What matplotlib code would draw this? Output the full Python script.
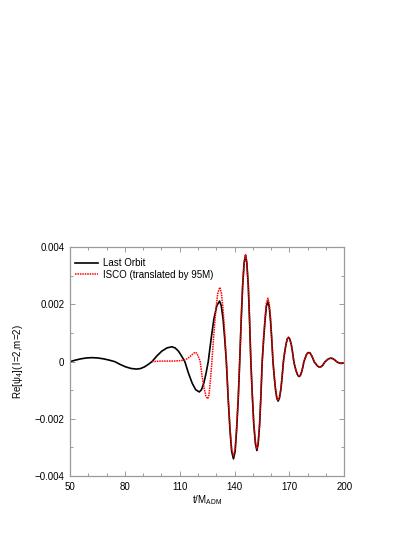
import matplotlib
matplotlib.use("Agg")
import matplotlib.pyplot as plt
from matplotlib.ticker import MultipleLocator, FixedLocator, FixedFormatter

plt.rcParams['font.family'] = ['Liberation Sans', 'DejaVu Sans']
plt.rcParams['mathtext.fontset'] = 'custom'
plt.rcParams['mathtext.rm'] = 'Liberation Sans'
plt.rcParams['mathtext.it'] = 'Liberation Sans:italic'

# ---- data ----
last_orbit_t = [50, 53, 56, 59, 62, 65.1, 68.3, 71.4, 74.5, 77.5, 80.5, 83.5, 86.5,
                88.6, 90.7, 92.7, 94.8, 97.5, 100.2, 103.0, 105.7, 107.5, 109.3, 111.0, 112.8,
                114.8, 116.8, 118.7, 120.7, 121.9, 123.2, 124.4, 125.6, 127.2, 128.7, 130.3, 131.8,
                132.7, 133.7, 134.6, 135.5, 136.5, 137.5, 138.4, 139.4, 140.3, 141.1, 142.0, 142.8,
                143.6, 144.4, 145.2, 146.0, 146.7, 147.5, 148.2, 148.9, 149.7, 150.5, 151.4, 152.2,
                152.9, 153.7, 154.4, 155.1, 155.9, 156.7, 157.4, 158.2, 158.9, 159.6, 160.3, 161.0,
                161.7, 162.4, 163.1, 163.8, 164.5, 165.3, 166.0, 166.7, 167.4, 168.1, 168.8, 169.5,
                170.2, 171.0, 171.7, 172.4, 173.1, 173.9, 174.6, 175.3, 176.0, 176.6, 177.3, 177.9,
                178.6, 179.2, 179.9, 180.5, 181.3, 182.0, 182.8, 183.5, 184.3, 185.1, 185.8, 186.6,
                187.3, 188.1, 188.8, 189.5, 190.3, 191.1, 191.9, 192.7, 193.5, 194.3, 195.0, 195.8,
                196.4, 197.1, 197.7, 198.3, 199.2, 200]
last_orbit_v = [0, 0.000054, 0.000099, 0.000129, 0.00014, 0.000129, 0.000099, 0.000054, 0,
                -0.0001, -0.000184, -0.00024, -0.00026, -0.00024, -0.000184, -0.0001, 0,
                0.000199, 0.000368, 0.00048, 0.00052, 0.00048, 0.000368, 0.000199, 0,
                -0.000406, -0.00075, -0.00098, -0.00106, -0.00098, -0.00075, -0.000406, 0,
                0.00081, 0.0015, 0.00196, 0.00212, 0.00196, 0.0015, 0.00081, 0,
                -0.0013, -0.0024, -0.00314, -0.0034, -0.00314, -0.0024, -0.0013, 0,
                0.00143, 0.00264, 0.00345, 0.00373, 0.00345, 0.00264, 0.00143, 0,
                -0.00119, -0.0022, -0.00287, -0.00311, -0.00287, -0.0022, -0.00119, 0,
                0.0008, 0.00148, 0.00194, 0.0021, 0.00194, 0.00148, 0.0008, 0,
                -0.00053, -0.00098, -0.00128, -0.00138, -0.00128, -0.00098, -0.00053, 0,
                0.00033, 0.0006, 0.00079, 0.00085, 0.00079, 0.0006, 0.00033, 0,
                -0.0002, -0.00037, -0.00048, -0.00052, -0.00048, -0.00037, -0.0002, 0,
                0.00012, 0.00023, 0.0003, 0.00032, 0.0003, 0.00023, 0.00012, 0,
                -0.00007, -0.000134, -0.000176, -0.00019, -0.000176, -0.000134, -0.00007, 0,
                0.000046, 0.000085, 0.000111, 0.00012, 0.000111, 0.000085, 0.000046, 0,
                -0.000023, -0.000042, -0.000055, -0.00006, -0.000055, -0.00004]

isco_t = [94.8, 97, 100, 103, 106, 109, 111, 112.5, 114, 115.5, 117, 118.4,
          119.1, 119.8, 120.5, 121.2, 122.2, 123.3, 124.3, 125.3, 125.9, 126.4, 127.0, 127.6,
          128.7, 129.8, 130.8, 131.9, 132.8, 133.7, 134.6, 135.5, 136.5, 137.5, 138.4, 139.4,
          140.3, 141.1, 142.0, 142.8, 143.6, 144.4, 145.2, 146.0, 146.7, 147.5, 148.2, 148.9,
          149.7, 150.5, 151.4, 152.2, 152.9, 153.7, 154.4, 155.1, 155.9, 156.7, 157.4, 158.2,
          158.9, 159.6, 160.3, 161.0,
          161.7, 162.4, 163.1, 163.8, 164.5, 165.3, 166.0, 166.7, 167.4, 168.1, 168.8, 169.5,
          170.2, 171.0, 171.7, 172.4, 173.1, 173.9, 174.6, 175.3, 176.0, 176.6, 177.3, 177.9,
          178.6, 179.2, 179.9, 180.5, 181.3, 182.0, 182.8, 183.5, 184.3, 185.1, 185.8, 186.6,
          187.3, 188.1, 188.8, 189.5, 190.3, 191.1, 191.9, 192.7, 193.5, 194.3, 195.0, 195.8,
          196.4, 197.1, 197.7, 198.3, 199.2, 200]
isco_v = [0, 0.00001, 0.00002, 0.00002, 0.00002, 0.00003, 0.00004, 0.00006, 0.0001, 0.00017, 0.00026, 0.00033,
          0.000305, 0.000233, 0.000126, 0, -0.0005, -0.00092, -0.0012, -0.0013, -0.0012, -0.00092, -0.0005, 0,
          0.001, 0.00184, 0.0024, 0.0026, 0.0024, 0.00184, 0.001, 0,
          -0.00126, -0.00233, -0.00305, -0.0033, -0.00305, -0.00233, -0.00126, 0,
          0.00144, 0.00265, 0.00346, 0.00375, 0.00346, 0.00265, 0.00144, 0,
          -0.00117, -0.00216, -0.00282, -0.00305, -0.00282, -0.00216, -0.00117, 0,
          0.00085, 0.00157, 0.00205, 0.00222, 0.00205, 0.00157, 0.00085, 0,
          -0.00052, -0.00097, -0.00126, -0.00136, -0.00126, -0.00097, -0.00052, 0,
          0.00033, 0.0006, 0.00079, 0.00085, 0.00079, 0.0006, 0.00033, 0,
          -0.0002, -0.00037, -0.00048, -0.00052, -0.00048, -0.00037, -0.0002, 0,
          0.00012, 0.00023, 0.0003, 0.00032, 0.0003, 0.00023, 0.00012, 0,
          -0.00007, -0.000134, -0.000176, -0.00019, -0.000176, -0.000134, -0.00007, 0,
          0.000046, 0.000085, 0.000111, 0.00012, 0.000111, 0.000085, 0.000046, 0,
          -0.000023, -0.000042, -0.000055, -0.00006, -0.000055, -0.00004]

x_ticks = [50, 80, 110, 140, 170, 200]
y_ticks = [-0.004, -0.002, 0, 0.002, 0.004]
y_tick_labels = ['\u22120.004', '\u22120.002', '0', '0.002', '0.004']
series_labels = ['Last Orbit', 'ISCO (translated by 95M)']

# ---- figure ----
fig = plt.figure(figsize=(4.15, 5.37), dpi=100)
ax = fig.add_axes([70 / 415, 61 / 537, 274.3 / 415, 228.7 / 537])

ax.plot(last_orbit_t, last_orbit_v, color='black', lw=1.2, label=series_labels[0])
ax.plot(isco_t, isco_v, color='red', lw=1.1, ls=(0, (1, 0.6)), label=series_labels[1])

ax.set_xlim(50, 200)
ax.set_ylim(-0.004, 0.004)
ax.xaxis.set_major_locator(FixedLocator(x_ticks))
ax.xaxis.set_minor_locator(MultipleLocator(10))
ax.yaxis.set_major_locator(FixedLocator(y_ticks))
ax.yaxis.set_major_formatter(FixedFormatter(y_tick_labels))
ax.yaxis.set_minor_locator(MultipleLocator(0.001))

gray = '#9a9a9a'
for s in ax.spines.values():
    s.set_color(gray)
    s.set_linewidth(0.9)
ax.tick_params(which='both', direction='in', top=True, right=True, color=gray,
               labelsize=7, labelcolor='black', width=0.7)
ax.tick_params(which='major', length=3.5, pad=4)
ax.tick_params(which='minor', length=2.0)

ax.set_xlabel('t/M$_{\\mathrm{ADM}}$', fontsize=7, labelpad=1)
ax.set_ylabel('Re[\u03c8$_4$]( l=2,m=2)', fontsize=7, labelpad=7)

ax.legend(loc='upper left', bbox_to_anchor=(5 / 274.3, 1 - 11 / 228.7), frameon=False,
          fontsize=7, handlelength=2.4, handletextpad=0.5, labelspacing=0.15,
          borderaxespad=0, borderpad=0)

fig.savefig('out.png', dpi=100)
